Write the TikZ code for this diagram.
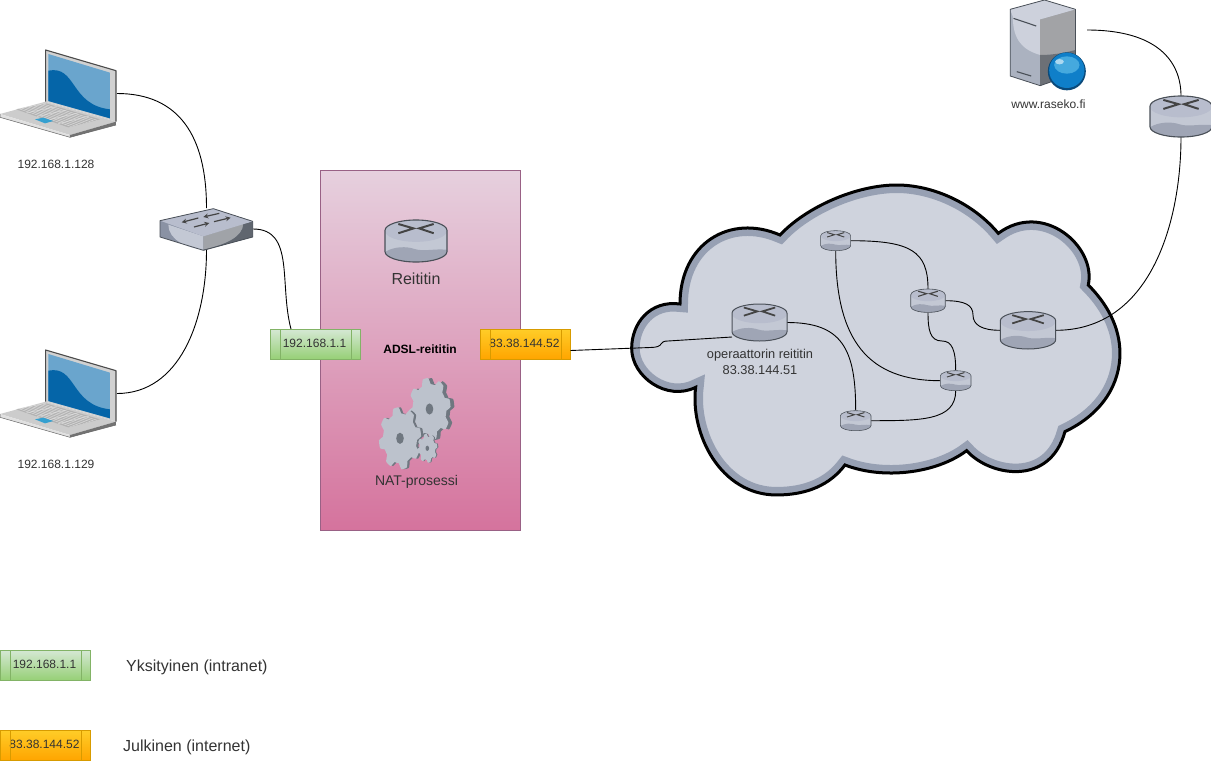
\documentclass[tikz,border=0pt]{standalone}
\usepackage{fontspec}
\setmainfont{Liberation Sans}
\definecolor{txt}{HTML}{333333}
\definecolor{rbody}{HTML}{C3C8D4}
\definecolor{rtop}{HTML}{B8BDCD}
\definecolor{rlow}{HTML}{9FA5B5}
\definecolor{redge}{HTML}{4A5058}
\definecolor{rmark}{HTML}{444444}
\definecolor{cloudfill}{HTML}{CFD3DD}
\definecolor{cloudband}{HTML}{97A0B3}
\definecolor{gearfill}{HTML}{BCC2CC}
\definecolor{gearshadow}{HTML}{6F7780}
\definecolor{greenT}{HTML}{D5E8D4}
\definecolor{greenB}{HTML}{97D077}
\definecolor{greenS}{HTML}{82B366}
\definecolor{orangeT}{HTML}{FFCD28}
\definecolor{orangeB}{HTML}{FFA500}
\definecolor{orangeS}{HTML}{D79B00}
\definecolor{boxT}{HTML}{E6D0DE}
\definecolor{boxB}{HTML}{D5739D}
\definecolor{boxedge}{HTML}{996185}
\definecolor{padblue}{HTML}{35A0D0}
\definecolor{screenblue}{HTML}{6AA5CD}
\definecolor{wavblue}{HTML}{0565A8}
\definecolor{swside}{HTML}{8A92A4}
\definecolor{swright}{HTML}{A0A3A8}
\definecolor{swdark}{HTML}{60666F}
\definecolor{srvleft}{HTML}{ABB2C0}
\definecolor{srvlight}{HTML}{CDD1DC}
\definecolor{srvupper}{HTML}{A2A3A6}
\definecolor{srvlower}{HTML}{6C7076}
\definecolor{globeedge}{HTML}{0B4A7A}
\definecolor{globemain}{HTML}{0F7FC9}
\definecolor{globelight}{HTML}{45A9DE}
\tikzset{
  iconbox/.style 2 args={inner sep=0pt,outer sep=0pt,minimum width=#1pt,minimum height=#2pt},
  wire/.style={draw=black,line width=0.9pt},
  lbl/.style={inner sep=0pt,text=txt,align=center,font=\fontsize{12}{15}\selectfont},
  biglbl/.style={inner sep=0pt,text=txt,align=center,font=\fontsize{16}{19}\selectfont},
  midlbl/.style={inner sep=0pt,text=txt,align=center,font=\fontsize{13}{16}\selectfont},
  greentag/.style={draw=greenS,line width=0.9pt,top color=greenT,bottom color=greenB,minimum width=90pt,minimum height=30pt,inner sep=0pt,outer sep=0pt,text=txt,font=\fontsize{12}{14}\selectfont},
  orangetag/.style={draw=orangeS,line width=0.9pt,top color=orangeT,bottom color=orangeB,minimum width=90pt,minimum height=30pt,inner sep=0pt,outer sep=0pt,text=txt,font=\fontsize{12}{14}\selectfont}
}
% router icon: node name, width, height
\newcommand{\routericon}[3]{%
\begin{scope}[shift={(#1.center)},x=#2*0.5pt,y=-#3*0.5pt]
  \path[fill=rbody] (-1,-.5) .. controls (-1,-.78) and (-.55,-1) .. (0,-1) .. controls (.55,-1) and (1,-.78) .. (1,-.5) -- (1,.5) .. controls (1,.78) and (.55,1) .. (0,1) .. controls (-.55,1) and (-1,.78) .. (-1,.5) -- cycle;
  \path[fill=rtop] (0,-.48) ellipse [x radius=1,y radius=.52];
  \path[fill=rlow] (-1,.52) .. controls (-.7,.25) and (-.3,.25) .. (-.05,.38) .. controls (.25,.52) and (.6,.35) .. (1,.42) -- (1,.5) .. controls (1,.78) and (.55,1) .. (0,1) .. controls (-.55,1) and (-1,.78) .. (-1,.52) -- cycle;
  \draw[redge,line width=#2*0.018pt,line join=round] (-1,-.5) .. controls (-1,-.78) and (-.55,-1) .. (0,-1) .. controls (.55,-1) and (1,-.78) .. (1,-.5) -- (1,.5) .. controls (1,.78) and (.55,1) .. (0,1) .. controls (-.55,1) and (-1,.78) .. (-1,.5) -- cycle;
  \draw[rmark,line width=#2*0.032pt] (-.57,-.81) -- (-.08,-.6) -- (-.57,-.37) (.57,-.81) -- (.1,-.6) -- (.57,-.37);
\end{scope}}
% gear: node name, x radius, y radius, shadow offset
\newcommand{\gearicon}[4]{%
\begin{scope}[shift={(#1.center)},x=#2 pt,y=#3 pt]
  \fill[gearshadow,shift={(#4,0)}] plot[domain=0:360,samples=181] ({(1+.11*max(-1,min(1,2*sin(8*\x))))*cos(\x)},{(1+.11*max(-1,min(1,2*sin(8*\x))))*sin(\x)}) -- cycle;
  \fill[gearfill] plot[domain=0:360,samples=181] ({(1+.11*max(-1,min(1,2*sin(8*\x))))*cos(\x)},{(1+.11*max(-1,min(1,2*sin(8*\x))))*sin(\x)}) -- cycle;
  \fill[gearshadow] (0,0) ellipse [x radius=.2,y radius=.2];
\end{scope}}
% laptop
\newcommand{\laptopicon}[1]{%
\begin{scope}[shift={(#1.north west)},x=0.3333pt,y=-0.3333pt,shift={(0,-30)}]
  \fill[black!20] (137,185) -- (348,245) -- (210,285) -- (0,222) -- cycle;
  \fill[black!30] (48,208) -- (137,190) -- (300,238) -- (205,262) -- cycle;
  \foreach \k in {0,...,4}{
    \draw[black!10,line width=.35pt] ({48+\k*31.4},{208+\k*10.8}) -- ({137+\k*32.6},{190+\k*9.6});
  }
  \foreach \k in {1,...,9}{
    \draw[black!10,line width=.35pt] ({48+\k*8.9},{208-\k*1.8}) -- ({205+\k*9.5},{262-\k*2.4});
  }
  \fill[black!12] (0,222) -- (210,285) -- (210,292) -- (0,232) -- cycle;
  \fill[black!55] (210,285) -- (348,245) -- (348,255) -- (210,292) -- cycle;
  \fill[padblue] (105,238) -- (130,233) -- (160,243) -- (135,250) -- cycle;
  \draw[black!60,line width=.5pt] (0,222) -- (0,232) -- (210,292) -- (348,255);
  \fill[black!18] (137,30) -- (348,92) -- (348,245) -- (137,185) -- cycle;
  \fill[screenblue] (145,42) -- (330,98) -- (330,235) -- (145,183) -- cycle;
  \fill[wavblue] (145,92) .. controls (230,75) and (210,195) .. (330,208) -- (330,235) -- (145,183) -- cycle;
  \draw[black!70,line width=1.1pt,line join=round] (137,185) -- (137,30) -- (348,92) -- (348,245);
\end{scope}}
\begin{document}
\begin{tikzpicture}[x=1pt,y=-1pt]
\useasboundingbox (0,0) rectangle (1211,761);
% ---- cloud
\begin{scope}[shift={(630,180)},x=0.3333pt,y=-0.3333pt]
  \def\cloudpath{(150,372) .. controls (60,360) and (5,430) .. (5,505) .. controls (5,590) and (110,665) .. (197,622)
   .. controls (180,760) and (270,945) .. (440,945) .. controls (530,945) and (600,915) .. (645,855)
   .. controls (760,900) and (920,880) .. (1010,812)
   .. controls (1080,890) and (1260,920) .. (1305,755)
   .. controls (1420,700) and (1470,610) .. (1470,520) .. controls (1470,440) and (1430,370) .. (1375,315)
   .. controls (1400,200) and (1240,60) .. (1105,160)
   .. controls (1030,70) and (910,15) .. (800,15) .. controls (680,15) and (530,80) .. (450,165)
   .. controls (300,100) and (150,190) .. (150,372) -- cycle}
  \fill[cloudfill] \cloudpath;
  \begin{scope}
    \clip \cloudpath;
    \draw[cloudband,line width=16pt,line join=miter] \cloudpath;
  \end{scope}
  \draw[black,line width=3pt,line join=miter] \cloudpath;
\end{scope}
% ---- box
\node[draw=boxedge,line width=.9pt,top color=boxT,bottom color=boxB,minimum width=200pt,minimum height=360pt,inner sep=0pt,outer sep=0pt] (adsl) at (420.5,350) {};
% ---- icon placeholders
\node[iconbox={117}{87}] (lap1) at (58.5,93.5) {};
\node[iconbox={117}{87}] (lap2) at (58.5,393.5) {};
\node[iconbox={93}{42}] (sw) at (206.5,229) {};
\node[iconbox={62}{42}] (rmain) at (416,241) {};
\node[iconbox={55}{37}] (rop) at (759.5,322.5) {};
\node[iconbox={30}{20}] (ra) at (835.7,240.7) {};
\node[iconbox={34.6}{23.4}] (rb) at (928,300.7) {};
\node[iconbox={55.4}{37.4}] (rc) at (1028,330.3) {};
\node[iconbox={30.6}{20}] (rd) at (955.7,380.7) {};
\node[iconbox={30.6}{20}] (re) at (855.7,420.7) {};
\node[iconbox={62}{41}] (rtr) at (1181,116.5) {};
\node[iconbox={77}{86}] (srv) at (1048,43) {};
\node[iconbox={38}{56}] (g1) at (400,438.3) {};
\node[iconbox={38}{56}] (g2) at (429.5,409) {};
\node[iconbox={18}{26}] (g3) at (427.3,448.3) {};
% ---- tags
\node[greentag] (tagG) at (315.5,344) {\raisebox{.8pt}{\hspace{-2pt}192.168.1.1}};
\node[orangetag] (tagO) at (525.5,344) {\raisebox{.8pt}{\hspace{-2pt}83.38.144.52}};
\node[greentag] (legG) at (45.5,665) {\raisebox{.8pt}{\hspace{-2pt}192.168.1.1}};
\node[orangetag] (legO) at (45.5,745) {\raisebox{.8pt}{\hspace{-2pt}83.38.144.52}};
\foreach \t/\c in {tagG/greenS,legG/greenS,tagO/orangeS,legO/orangeS}{
  \draw[\c,line width=.9pt] (\t.north west) ++(9.5,0) -- ++(0,30);
  \draw[\c,line width=.9pt] (\t.north east) ++(-9.5,0) -- ++(0,30);
}
% ---- free connector ends
\coordinate (gport) at (291,329);
\coordinate (oport) at (570.5,350.5);
\coordinate (opin) at (732,337);
\coordinate (srvport) at (1087,30);
% ---- connectors
\draw[wire] (lap1.east) .. controls +(62,0) and +(0,-72) .. (sw.north);
\draw[wire] (lap2.east) .. controls +(62,0) and +(0,72) .. (sw.south);
\draw[wire] (sw.east) .. controls +(42,0) and +(-12,-45) .. (gport);
\draw[wire] (oport) -- (650,347.5) .. controls (657,347.5) and (660,346) .. (661,344) .. controls (662,342) and (664,341) .. (668,341) -- (opin);
\draw[wire] (rop.east) .. controls +(55,0) and +(0,-62) .. (re.north);
\draw[wire] (ra.east) .. controls +(60,0) and +(0,-38) .. (rb.north);
\draw[wire] (ra.south) .. controls +(0,90) and +(-72,0) .. (rd.west);
\draw[wire] (rb.east) .. controls (965,300.7) and (973,305) .. (973,315) .. controls (973,325) and (982,330.3) .. (rc.west);
\draw[wire] (rb.south) .. controls (928,330) and (930,341) .. (942,341) .. controls (952,341) and (955.7,350) .. (rd.north);
\draw[wire] (rd.south) .. controls +(0,30) and +(50,0) .. (re.east);
\draw[wire] (rc.east) .. controls +(95,0) and +(0,85) .. (rtr.south);
\draw[wire] (srvport) .. controls +(70,0) and +(0,-35) .. (rtr.north);
% ---- icons
\laptopicon{lap1}
\laptopicon{lap2}
\begin{scope}[shift={(sw.north west)},x=0.3333pt,y=-0.3333pt,shift={(-480,-505)}]
  \fill[swside] (480,543) -- (640,507) -- (758,545) -- (758,592) -- (610,632) -- (480,592) -- cycle;
  \fill[rbody] (505,555) -- (610,590) -- (610,630) .. controls (560,625) and (505,600) .. (505,555) -- cycle;
  \fill[swright] (610,590) -- (730,552) .. controls (730,590) and (680,615) .. (610,630) -- cycle;
  \fill[swdark] (730,552) -- (758,545) -- (758,592) -- (610,632) -- (610,630) .. controls (680,615) and (730,590) .. (730,552) -- cycle;
  \fill[rtop] (480,543) -- (640,507) -- (758,545) -- (610,590) -- cycle;
  \draw[redge,line width=.8pt,line join=round] (480,543) -- (640,507) -- (758,545) -- (758,592) -- (610,632) -- (480,592) -- cycle;
  \draw[rmark,line width=1.2pt,-stealth] (595,535) -- (545,548);
  \draw[rmark,line width=1.2pt,-stealth] (658,521) -- (610,532);
  \draw[rmark,line width=1.2pt,-stealth] (582,562) -- (628,550);
  \draw[rmark,line width=1.2pt,-stealth] (642,546) -- (692,534);
\end{scope}
\routericon{rmain}{62}{42}
\routericon{rop}{55}{37}
\routericon{ra}{30}{20}
\routericon{rb}{34.6}{23.4}
\routericon{rc}{55.4}{37.4}
\routericon{rd}{30.6}{20}
\routericon{re}{30.6}{20}
\routericon{rtr}{62}{41}
\begin{scope}[shift={(srv.north west)},x=0.3333pt,y=-0.3333pt,shift={(-90,0)}]
  \fill[srvleft] (92,28) -- (195,0) -- (288,28) -- (288,220) -- (182,257) -- (92,228) -- cycle;
  \fill[srvlight] (92,28) -- (195,0) -- (182,58) -- (182,165) .. controls (130,150) and (100,120) .. (100,50) -- cycle;
  \fill[srvupper] (182,58) -- (288,28) -- (288,150) .. controls (250,160) and (215,165) .. (182,165) -- cycle;
  \fill[srvlower] (182,165) .. controls (215,165) and (250,160) .. (288,150) -- (288,220) -- (182,257) -- cycle;
  \fill[srvlight] (92,28) -- (195,0) -- (288,28) -- (182,58) -- cycle;
  \draw[redge,line width=.8pt,line join=round] (92,28) -- (195,0) -- (288,28) -- (288,220) -- (182,257) -- (92,228) -- cycle;
  \draw[redge,line width=1.1pt] (102,55) -- (170,78) (112,215) -- (155,228);
  \fill[globeedge] (262,214) circle [radius=57];
  \fill[globemain] (262,211) circle [radius=53];
  \fill[globelight] (262,195) ellipse [x radius=38,y radius=26];
  \fill[white!55!globelight] (240,185) ellipse [x radius=13,y radius=8];
\end{scope}
\gearicon{g2}{19}{28}{.2}
\gearicon{g1}{19}{28}{.12}
\gearicon{g3}{9}{13}{.12}
% ---- labels
\node[lbl] (t1) at (56,164) {192.168.1.128};
\node[lbl] (t2) at (56,464) {192.168.1.129};
\node[lbl] (t3) at (1048.5,104) {www.raseko.fi};
\node[biglbl] (t4) at (416,278.5) {Reititin};
\node[lbl,font=\bfseries\fontsize{12}{14}\selectfont,text=black] (t5) at (420,349.5) {ADSL-reititin};
\node[midlbl,font=\fontsize{14}{16}\selectfont] (t6) at (416.5,481.5) {NAT-prosessi};
\node[midlbl,font=\fontsize{12.8}{16}\selectfont] (t7) at (760,362) {operaattorin reititin\\83.38.144.51};
\node[biglbl,anchor=west] (t8) at (126,667) {Yksityinen (intranet)};
\node[biglbl,anchor=west] (t9) at (123,747) {Julkinen (internet)};
\end{tikzpicture}
\end{document}
